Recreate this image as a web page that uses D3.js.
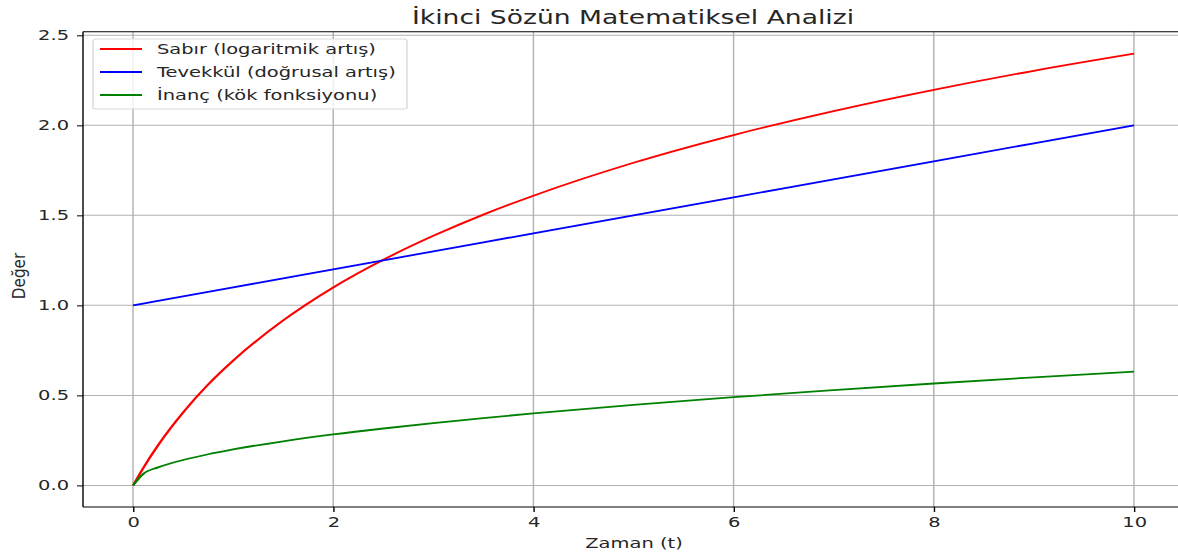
<!DOCTYPE html>
<html>
<head>
<meta charset="utf-8">
<script src="https://cdn.jsdelivr.net/npm/d3@7"></script>
<style>
	body { margin: 0; background: #fff; }
	text { font-family: "DejaVu Sans", sans-serif; fill: #262626; }
</style>
</head>
<body>
<div id="chart"></div>
<script>

// values
var zaman = [0, 0.1, 0.25, 0.5, 0.75, 1, 1.5, 2, 2.5, 3, 3.5, 4, 5, 6, 7, 8, 9, 10];
var sabir = [0, 0.095, 0.223, 0.405, 0.560, 0.693, 0.916, 1.099, 1.253, 1.386, 1.504, 1.609, 1.792, 1.946, 2.079, 2.197, 2.303, 2.398];
var tevekkul = [1.0, 1.01, 1.025, 1.05, 1.075, 1.1, 1.15, 1.2, 1.25, 1.3, 1.35, 1.4, 1.5, 1.6, 1.7, 1.8, 1.9, 2.0];
var inanc = [0, 0.063, 0.100, 0.141, 0.173, 0.200, 0.245, 0.283, 0.316, 0.346, 0.374, 0.400, 0.447, 0.490, 0.529, 0.566, 0.600, 0.632];

var seriesNames = ['Sabır (logaritmik artış)', 'Tevekkül (doğrusal artış)', 'İnanç (kök fonksiyonu)'];
var seriesColors = ['#ff0000', '#0000ff', '#008000'];
var xTicks = [0, 2, 4, 6, 8, 10];
var yTicks = [0.0, 0.5, 1.0, 1.5, 2.0, 2.5];

var width = 1178,
	height = 556;

// the picture is stretched horizontally, draw in narrow space and scale
var SX = 1.4;

var plotLeft = 83 / SX,
	plotRight = 1184 / SX,
	plotTop = 31.7,
	plotBottom = 507;

var svg = d3.select('#chart').append('svg')
	.attr('width', width)
	.attr('height', height);

var g = svg.append('g')
	.attr('transform', 'scale(' + SX + ',1)');

var x = d3.scaleLinear()
	.domain([-0.5, 10.5])
	.range([plotLeft, plotRight]);

var y = d3.scaleLinear()
	.domain([-0.12, 2.52])
	.range([plotBottom, plotTop]);

// grid
g.append('g')
	.selectAll('line.vgrid')
	.data(xTicks)
	.enter()
	.append('line')
	.attr('x1', d => x(d))
	.attr('x2', d => x(d))
	.attr('y1', plotTop)
	.attr('y2', plotBottom)
	.style('stroke', '#b0b0b0')
	.style('stroke-width', 1);

g.append('g')
	.selectAll('line.hgrid')
	.data(yTicks)
	.enter()
	.append('line')
	.attr('x1', plotLeft)
	.attr('x2', plotRight)
	.attr('y1', d => y(d))
	.attr('y2', d => y(d))
	.style('stroke', '#b0b0b0')
	.style('stroke-width', 1);

// curves
var allSeries = [sabir, tevekkul, inanc];
var line = d3.line()
	.x((d, i) => x(zaman[i]))
	.y(d => y(d))
	.curve(d3.curveMonotoneX);

g.append('g')
	.selectAll('path.curve')
	.data(allSeries)
	.enter()
	.append('path')
	.attr('d', line)
	.style('fill', 'none')
	.style('stroke', (d, i) => seriesColors[i])
	.style('stroke-width', 1.8);

// spines
g.append('line')
	.attr('x1', plotLeft).attr('x2', plotLeft)
	.attr('y1', plotTop).attr('y2', plotBottom)
	.style('stroke', '#000').style('stroke-width', 1);
g.append('line')
	.attr('x1', plotLeft).attr('x2', plotRight)
	.attr('y1', plotBottom).attr('y2', plotBottom)
	.style('stroke', '#000').style('stroke-width', 1);
g.append('line')
	.attr('x1', plotLeft).attr('x2', plotRight)
	.attr('y1', plotTop).attr('y2', plotTop)
	.style('stroke', '#000').style('stroke-width', 1);

// axes
var xAxis = d3.axisBottom(x)
	.tickValues(xTicks)
	.tickSize(5)
	.tickPadding(5)
	.tickFormat(d3.format('d'));

var yAxis = d3.axisLeft(y)
	.tickValues(yTicks)
	.tickSize(6 / SX)
	.tickPadding(8 / SX)
	.tickFormat(d3.format('.1f'));

var gx = g.append('g')
	.attr('transform', 'translate(0,' + plotBottom + ')')
	.call(xAxis);
var gy = g.append('g')
	.attr('transform', 'translate(' + plotLeft + ',0)')
	.call(yAxis);

[gx, gy].forEach(function(ax) {
	ax.select('.domain').remove();
	ax.selectAll('line').style('stroke', '#000');
	ax.selectAll('text')
		.style('font-family', '"DejaVu Sans", sans-serif')
		.style('font-size', '13.9px')
		.style('fill', '#262626');
});

// title
g.append('text')
	.attr('x', 633 / SX)
	.attr('y', 24)
	.attr('text-anchor', 'middle')
	.style('font-size', '19px')
	.text('İkinci Sözün Matematiksel Analizi');

// x label
g.append('text')
	.attr('x', 634 / SX)
	.attr('y', 548)
	.attr('text-anchor', 'middle')
	.style('font-size', '13.9px')
	.text('Zaman (t)');

// y label, drawn unstretched
svg.append('text')
	.attr('transform', 'translate(25,276) rotate(-90)')
	.attr('text-anchor', 'middle')
	.style('font-family', '"DejaVu Sans Condensed", "DejaVu Sans", sans-serif')
	.style('font-size', '17px')
	.text('Değer');

// legend
var legend = g.append('g');
legend.append('rect')
	.attr('x', 93 / SX)
	.attr('y', 39)
	.attr('width', (407 - 93) / SX)
	.attr('height', 70)
	.attr('rx', 2)
	.style('fill', '#fff')
	.style('fill-opacity', 0.8)
	.style('stroke', '#d9d9d9')
	.style('stroke-width', 1);

var rows = [49, 72, 95];
seriesNames.forEach(function(name, i) {
	legend.append('line')
		.attr('x1', 100 / SX)
		.attr('x2', 142 / SX)
		.attr('y1', rows[i])
		.attr('y2', rows[i])
		.style('stroke', seriesColors[i])
		.style('stroke-width', 1.8);
	legend.append('text')
		.attr('x', 157 / SX)
		.attr('y', rows[i] + 5)
		.style('font-size', '13.9px')
		.text(name);
});

</script>
</body>
</html>
